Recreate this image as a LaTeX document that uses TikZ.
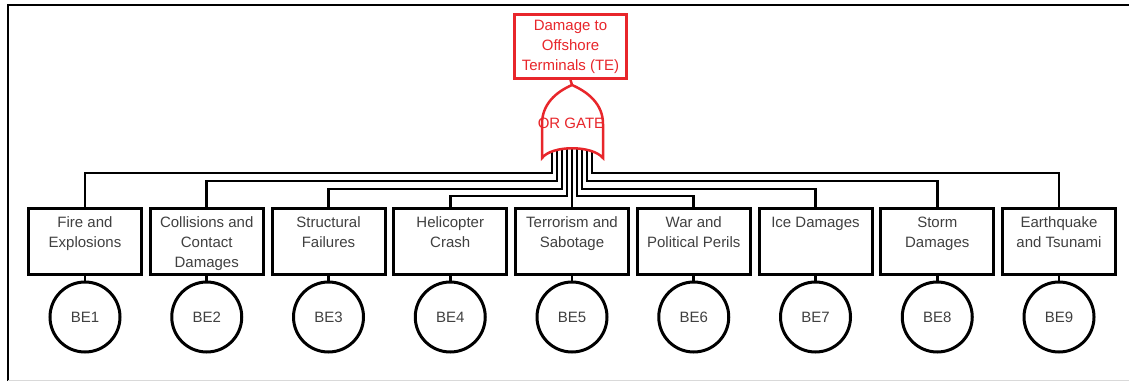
\documentclass[tikz,border=0pt]{standalone}
\usepackage{fontspec}
\setmainfont{Liberation Sans}
\definecolor{txtgray}{HTML}{404040}
\definecolor{gred}{HTML}{E8262B}
\newcommand\bx[1]{\parbox[c][60pt][t]{112pt}{\centering\rule{0pt}{15.5pt}#1}}
\begin{document}
\begin{tikzpicture}[x=1pt,y=-1pt,
  evbox/.style={draw=black, line width=3pt, fill=white, minimum width=113pt, minimum height=66pt, inner sep=0pt, text=txtgray, font=\fontsize{15}{20}\selectfont},
  basic/.style={circle, draw=black, line width=3pt, minimum size=70pt, inner sep=0pt, text=txtgray, font=\fontsize{15}{18}\selectfont},
  topbox/.style={draw=gred, line width=2.8pt, fill=white, minimum width=112pt, minimum height=64pt, inner sep=0pt, text=gred, align=center, font=\fontsize{15}{20}\selectfont},
  wire/.style={line width=2.6pt, black},
  gatesh/.style={draw=gred, line width=2.5pt, fill=white},
  link/.style={line width=2.8pt, black},
  frameline/.style={line width=2pt, black}]
\useasboundingbox (0,0) rectangle (1129,381);
% frame
\coordinate (fbl) at (8,381);
\coordinate (ftl) at (8,5);
\coordinate (ftr) at (1129,5);
\draw[frameline] (fbl) -- (ftl) -- (ftr);
\coordinate (bl) at (8,380);
\coordinate (br) at (1129,380);
\draw[line width=1pt, black!15] (bl) -- (br);
% top event
\node[topbox] (te) at (570.5,46.5) {Damage to\\Offshore\\Terminals (TE)};
% boxes and basic events
\foreach \i/\t in {1/{Fire and\\Explosions},2/{Collisions and\\Contact\\Damages},3/{Structural\\Failures},4/{Helicopter\\Crash},5/{Terrorism and\\Sabotage},6/{War and\\Political Perils},7/{Ice Damages},8/{Storm\\Damages},9/{Earthquake\\and Tsunami}}{
  \node[evbox] (e\i) at ({85+121.75*(\i-1)},241.5) {\bx{\t}};
  \node[basic] (b\i) at ({85+121.75*(\i-1)},317) {BE\i};
  \draw[link] (e\i.south) -- (b\i.north);
  \coordinate (w\i) at ({572+5*(\i-5)},148);
}
% wires
\foreach \i/\d in {1/25,2/33,3/41,4/48,6/48,7/41,8/33,9/25}{
  \draw[wire] (w\i) -- ++(0,\d) -| (e\i.north);
}
\draw[wire] (w5) -- (e5.north);
% OR gate
\coordinate (g) at (572,85);
\draw[gatesh] (542,158) -- (542,124) .. controls (542,104) and (556,92) .. (g) .. controls (588,92) and (603,104) .. (603,124) -- (603,158) .. controls (592,145) and (552,145) .. (542,158) -- cycle;
\node[text=gred, font=\fontsize{15}{18}\selectfont, inner sep=0pt] (gl) at (571,123) {OR GATE};
\draw[draw=gred, line width=2.5pt] (te.south) -- (g);
\end{tikzpicture}
\end{document}
